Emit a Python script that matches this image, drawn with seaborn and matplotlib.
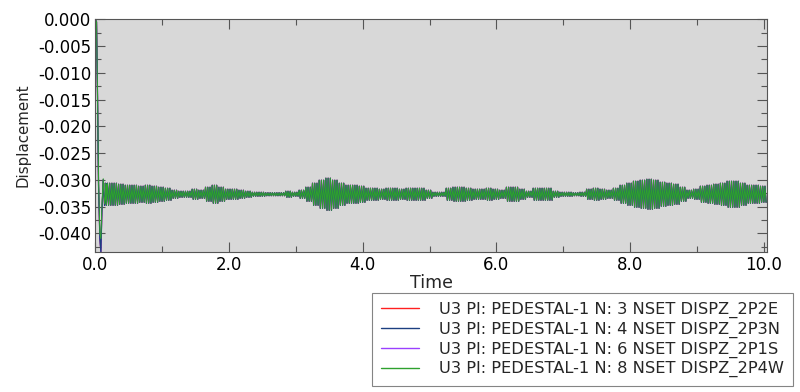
import numpy as np
import pandas as pd
import matplotlib
matplotlib.use("Agg")
import matplotlib.pyplot as plt
import seaborn as sns
from matplotlib.ticker import MultipleLocator, FormatStrFormatter

sns.set_theme(style="ticks")
plt.rcParams["font.family"] = ["DejaVu Sans"]

# start-up transient (time, displacement)
transient_time = [0.0, 0.02, 0.035, 0.05, 0.07, 0.085, 0.10, 0.12, 0.14, 0.17]
transient_green = [0.0, -0.0005, -0.0142, -0.0300, -0.0400, -0.0410, -0.0350, -0.0298, -0.0345, -0.0310]
transient_blue = [0.0, -0.0005, -0.0145, -0.0310, -0.0410, -0.0435, -0.0360, -0.0300, -0.0348, -0.0308]

# mean level and half-width (x1e-3) of the oscillation band, every 0.1 s from 0.2 s to 10.0 s
band_center = -0.0327
band_time = [round(0.2 + 0.1 * i, 1) for i in range(99)]
band_half = [
    2.06, 2.06, 1.87, 1.68, 1.68, 1.50, 1.68, 1.50, 1.31, 1.12,   # 0.2 - 1.1
    0.75, 0.56, 0.56, 0.94, 0.75, 1.31, 1.68, 1.31, 0.94, 0.94,   # 1.2 - 2.1
    0.75, 0.56, 0.37, 0.37, 0.28, 0.28, 0.28, 0.56, 0.37, 0.75,   # 2.2 - 3.1
    1.31, 2.06, 2.62, 3.00, 2.62, 2.06, 1.68, 1.68, 1.50, 1.12,   # 3.2 - 4.1
    1.12, 0.94, 1.12, 1.12, 0.94, 1.12, 1.12, 1.12, 0.75, 0.37,   # 4.2 - 5.1
    0.37, 1.12, 1.31, 1.31, 1.12, 0.94, 0.94, 1.12, 0.94, 0.75,   # 5.2 - 6.1
    1.31, 1.31, 0.94, 0.56, 1.12, 1.12, 1.12, 0.56, 0.37, 0.37,   # 6.2 - 7.1
    0.28, 0.37, 0.94, 1.12, 0.94, 0.75, 1.12, 1.68, 2.06, 2.43,   # 7.2 - 8.1
    2.62, 2.80, 2.62, 2.24, 2.06, 1.87, 1.31, 0.75, 0.94, 1.50,   # 8.2 - 9.1
    1.68, 1.87, 2.06, 2.43, 2.43, 2.06, 1.68, 1.68, 1.50,         # 9.2 - 10.0
]

series_labels = [
    "U3 PI: PEDESTAL-1 N: 3 NSET DISPZ_2P2E",
    "U3 PI: PEDESTAL-1 N: 4 NSET DISPZ_2P3N",
    "U3 PI: PEDESTAL-1 N: 6 NSET DISPZ_2P1S",
    "U3 PI: PEDESTAL-1 N: 8 NSET DISPZ_2P4W",
]
series_colors = ["#ff2020", "#1c3f80", "#9a40ff", "#2ea12e"]

# dense trace: each 0.1 s band step drawn as a fast up/down swing
steps = 6
t_band = np.repeat(band_time, steps) + np.tile(np.arange(steps) * 0.1 / steps, len(band_time)) - 0.05
half = np.repeat(band_half, steps) * 1e-3
swing = np.where(np.arange(len(t_band)) % 2 == 0, 1.0, -1.0)
band_values = band_center + swing * half

frames = []
for label, first in zip(series_labels, [transient_blue, transient_blue, transient_blue, transient_green]):
    frames.append(pd.DataFrame({
        "Time": np.concatenate([transient_time, t_band]),
        "Displacement": np.concatenate([first, band_values]),
        "Series": label,
    }))
df = pd.concat(frames, ignore_index=True)

fig = plt.figure(figsize=(8, 3.92), dpi=100)
ax = fig.add_axes([0.119, 0.357, 0.840, 0.594])
ax.set_facecolor("#d8d8d8")

# draw order: red, purple, blue, green (green on top, blue peeking out)
widths = [0.8, 0.9, 0.8, 0.7]
for i in [0, 2, 1, 3]:
    sub = df[df["Series"] == series_labels[i]]
    sns.lineplot(data=sub, x="Time", y="Displacement", color=series_colors[i], lw=widths[i],
                 ax=ax, estimator=None, sort=False, legend=False)

ax.set_xlim(0, 10.05)
ax.set_ylim(-0.0435, 0.0)
ax.xaxis.set_major_locator(MultipleLocator(2.0))
ax.xaxis.set_minor_locator(MultipleLocator(1.0))
ax.yaxis.set_major_locator(MultipleLocator(0.005))
ax.yaxis.set_minor_locator(MultipleLocator(0.0025))
ax.xaxis.set_major_formatter(FormatStrFormatter("%.1f"))
ax.yaxis.set_major_formatter(FormatStrFormatter("%.3f"))
ax.tick_params(which="both", direction="in", top=True, right=True, colors="#555555",
               labelcolor="black", labelsize=12, pad=3)
ax.tick_params(which="major", length=7, width=0.8)
ax.tick_params(which="minor", length=4, width=0.8)
for s in ax.spines.values():
    s.set_color("#555555")
    s.set_linewidth(0.8)
ax.set_xlabel("Time", fontsize=12.5, labelpad=0)
ax.set_ylabel("Displacement", fontsize=10.8, labelpad=5)

handles = [plt.Line2D([], [], color=c, lw=1.0) for c in series_colors]
leg = fig.legend(handles, series_labels, loc="upper left", bbox_to_anchor=(0.465, 0.2526),
                 bbox_transform=fig.transFigure, fontsize=11.7, frameon=True, fancybox=False,
                 edgecolor="#666666", handlelength=2.34, handletextpad=1.23, borderpad=0.55,
                 labelspacing=0.22, borderaxespad=0)
leg.get_frame().set_linewidth(0.8)

fig.savefig("out.png", dpi=100)
